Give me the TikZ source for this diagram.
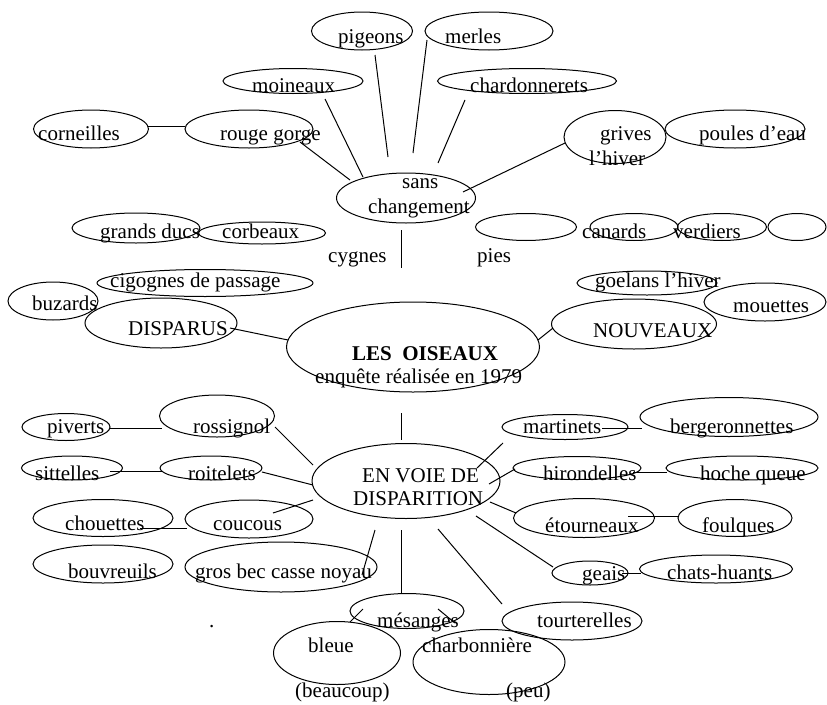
\documentclass[tikz,border=0pt]{standalone}
\usepackage{fontspec}
\setmainfont{Liberation Serif}
\usetikzlibrary{shapes.geometric}
\tikzset{
  ov/.style={draw, ellipse, inner sep=0pt, line width=1pt},
  lab/.style={anchor=base west, inner sep=0pt, font=\fontsize{21}{25}\selectfont},
  cnx/.style={line width=1pt}
}
\newcommand\ovl[5]{\node[ov, minimum width=#4pt, minimum height=#5pt] (#1) at (#2,#3) {};}
\newcommand\txt[4]{\node[lab] (#1) at (#2,#3) {#4};}
\newcommand\cnxl[5]{\coordinate (#1a) at (#2,#3); \coordinate (#1b) at (#4,#5); \draw[cnx] (#1a) -- (#1b);}
\begin{document}
\begin{tikzpicture}[x=1pt,y=-1pt]
\useasboundingbox (0,0) rectangle (827,704);
% ellipses
\ovl{e-pigeons}{362}{31}{101}{38}
\ovl{e-moineaux}{293}{81}{140}{25}
\ovl{e-corneilles}{91}{129}{115}{38}
\ovl{e-rouge}{249}{129}{128}{38}
\ovl{e-sans}{406}{198}{139}{50}
\ovl{e-merles}{489}{31}{128}{38}
\ovl{e-chardon}{527}{81}{179}{25}
\ovl{e-grives}{615}{137}{102}{53}
\ovl{e-poules}{735}{129}{140}{38}
\ovl{e-vide1}{526}{227}{101}{27}
\ovl{e-canards}{634}{227}{88}{27}
\ovl{e-verdiers}{722}{227}{89}{27}
\ovl{e-vide2}{797}{227}{58}{27}
\ovl{e-goelans}{647}{283}{140}{24}
\ovl{e-mouettes}{765}{302}{122}{38}
\ovl{e-nouveaux}{634}{324}{165}{50}
\ovl{e-oiseaux}{413}{347}{253}{90}
\ovl{e-grands}{136}{228}{128}{30}
\ovl{e-corbeaux}{262}{233}{127}{22}
\ovl{e-cigognes}{205}{283}{216}{27}
\ovl{e-buzards}{53}{301}{90}{38}
\ovl{e-disparus}{161}{323}{152}{50}
\ovl{e-piverts}{66}{427}{88}{27}
\ovl{e-rossignol}{217}{416}{115}{42}
\ovl{e-sittelles}{72}{468}{101}{24}
\ovl{e-roitelets}{211}{468}{102}{24}
\ovl{e-chouettes}{103}{518}{140}{37}
\ovl{e-coucous}{249}{519}{128}{38}
\ovl{e-bouvreuils}{103}{564}{140}{38}
\ovl{e-grosbec}{281}{567}{192}{50}
\ovl{e-envoie}{406}{481}{188}{75}
\ovl{e-martinets}{565}{427}{126}{25}
\ovl{e-berg}{729}{417}{178}{39}
\ovl{e-hirond}{577}{468}{128}{23}
\ovl{e-hoche}{742}{468}{152}{24}
\ovl{e-etourn}{584}{518}{141}{39}
\ovl{e-foulques}{735}{518}{114}{37}
\ovl{e-geais}{590}{573}{76}{24}
\ovl{e-chats}{716}{569}{153}{28}
\ovl{e-mesanges}{407}{611}{114}{35}
\ovl{e-tourt}{572}{621}{140}{38}
\ovl{e-bleue}{337}{653}{127}{63}
\ovl{e-charb}{489}{662}{152}{65}
% texts
\txt{t-pigeons}{338}{43}{pigeons}
\txt{t-moineaux}{252}{92}{moineaux}
\txt{t-corneilles}{38}{140}{corneilles}
\txt{t-rouge}{220}{140}{rouge gorge}
\txt{t-sans}{402}{188}{sans}
\txt{t-chgt}{368}{213}{changement}
\txt{t-merles}{445}{43}{merles}
\txt{t-chardon}{470}{92}{chardonnerets}
\txt{t-grives}{600}{140}{grives}
\txt{t-hiver}{589}{165}{l’hiver}
\txt{t-poules}{699}{140}{poules d’eau}
\txt{t-canards}{582}{238}{canards}
\txt{t-verdiers}{673}{238}{verdiers}
\txt{t-pies}{477}{262}{pies}
\txt{t-cygnes}{328}{262}{cygnes}
\txt{t-goelans}{595}{287}{goelans l’hiver}
\txt{t-mouettes}{733}{312}{mouettes}
\txt{t-nouveaux}{593}{337}{NOUVEAUX}
\txt{t-oiseaux}{352}{360}{\bfseries LES\ \ OISEAUX}
\txt{t-enquete}{315}{383}{enquête réalisée en 1979}
\txt{t-grands}{100}{238}{grands ducs}
\txt{t-corbeaux}{222}{238}{corbeaux}
\txt{t-cigognes}{110}{287}{cigognes de passage}
\txt{t-buzards}{32}{310}{buzards}
\txt{t-disparus}{128}{335}{DISPARUS}
\txt{t-piverts}{47}{433}{piverts}
\txt{t-rossignol}{193}{433}{rossignol}
\txt{t-sittelles}{35}{480}{sittelles}
\txt{t-roitelets}{188}{480}{roitelets}
\txt{t-chouettes}{65}{530}{chouettes}
\txt{t-coucous}{213}{530}{coucous}
\txt{t-bouvreuils}{68}{578}{bouvreuils}
\txt{t-grosbec}{195}{578}{gros bec casse noyau}
\txt{t-envoie1}{362}{482}{EN VOIE DE}
\txt{t-envoie2}{353}{505}{DISPARITION}
\txt{t-martinets}{523}{433}{martinets}
\txt{t-berg}{670}{433}{bergeronnettes}
\txt{t-hirond}{543}{480}{hirondelles}
\txt{t-hoche}{700}{480}{hoche queue}
\txt{t-etourn}{545}{532}{étourneaux}
\txt{t-foulques}{702}{532}{foulques}
\txt{t-geais}{582}{580}{geais}
\txt{t-chats}{667}{579}{chats-huants}
\txt{t-mesanges}{377}{627}{mésanges}
\txt{t-tourt}{537}{627}{tourterelles}
\txt{t-bleue}{308}{652}{bleue}
\txt{t-charb}{422}{652}{charbonnière}
\txt{t-beaucoup}{295}{697}{(beaucoup)}
\txt{t-peu}{506}{697}{(peu)}
\txt{t-point}{209}{627}{.}
% connectors
\cnxl{c1}{148}{126}{185}{126}
\cnxl{c2}{300}{142}{350}{180}
\cnxl{c3}{325}{99}{363}{177}
\cnxl{c4}{375}{55}{388}{157}
\cnxl{c5}{427}{40}{413}{153}
\cnxl{c6}{465}{100}{438}{163}
\cnxl{c7}{565}{143}{463}{192}
\cnxl{c8}{401}{230}{401}{268}
\cnxl{c9}{230}{328}{288}{340}
\cnxl{c10}{538}{340}{553}{328}
\cnxl{c11}{401}{413}{401}{440}
\cnxl{c12}{110}{428}{162}{428}
\cnxl{c13}{275}{427}{313}{465}
\cnxl{c14}{110}{471}{162}{471}
\cnxl{c15}{262}{472}{313}{485}
\cnxl{c16}{140}{528}{187}{528}
\cnxl{c17}{273}{513}{313}{500}
\cnxl{c18}{362}{575}{375}{530}
\cnxl{c19}{401}{530}{401}{593}
\cnxl{c20}{602}{428}{642}{428}
\cnxl{c21}{503}{443}{477}{468}
\cnxl{c22}{633}{472}{667}{472}
\cnxl{c23}{515}{469}{489}{484}
\cnxl{c24}{628}{516}{678}{516}
\cnxl{c25}{516}{513}{490}{502}
\cnxl{c26}{622}{573}{641}{573}
\cnxl{c27}{476}{516}{553}{567}
\cnxl{c28}{438}{529}{502}{604}
\cnxl{c29}{363}{609}{350}{622}
\cnxl{c30}{438}{609}{455}{623}
\end{tikzpicture}
\end{document}
